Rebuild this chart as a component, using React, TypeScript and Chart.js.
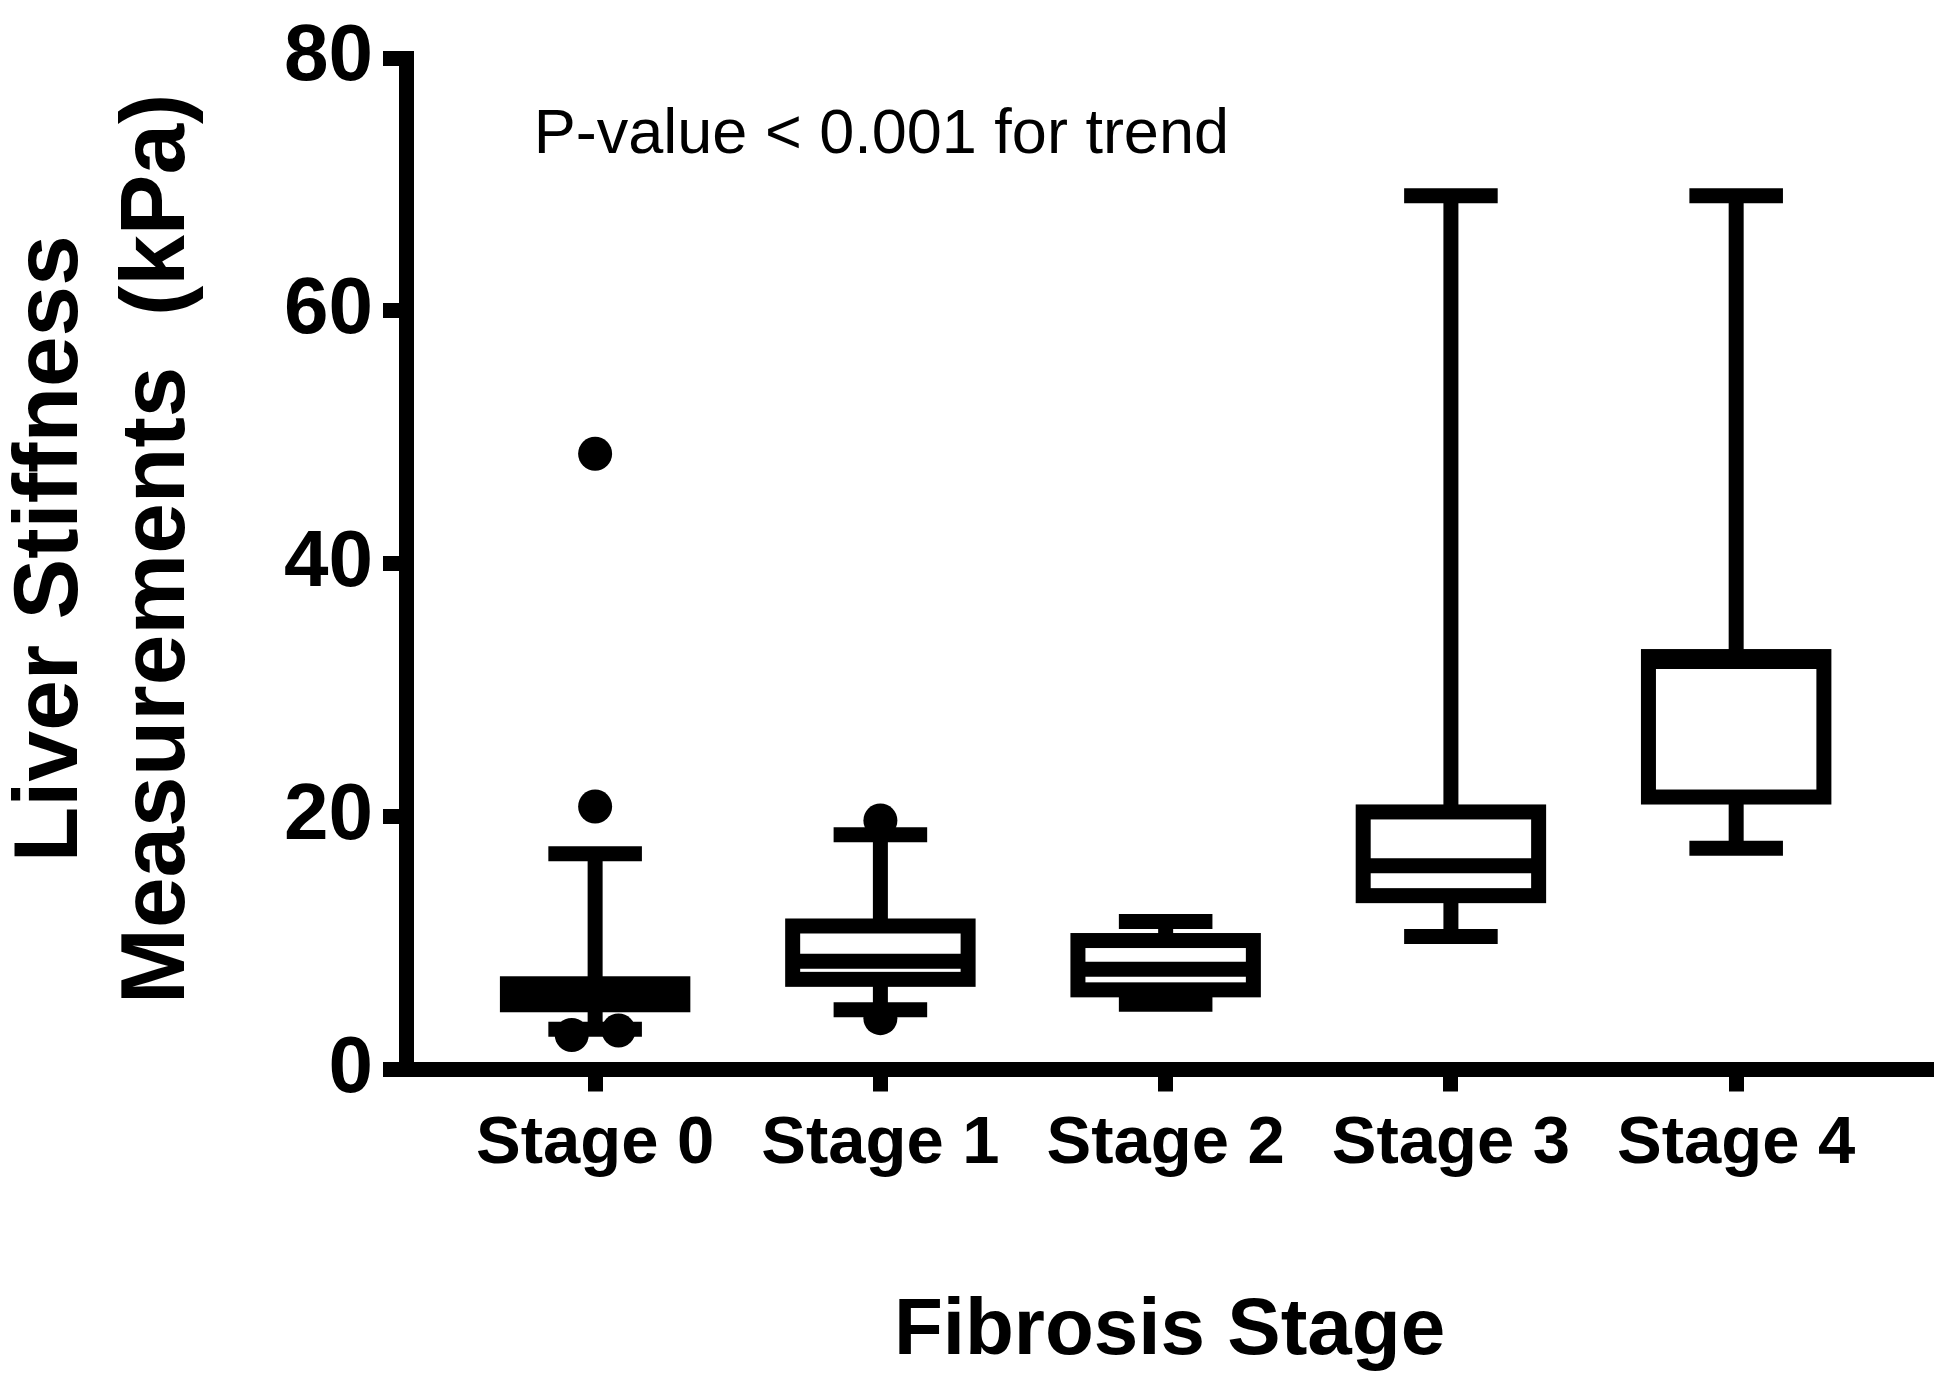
import React, { useEffect, useRef } from 'react';
import { Chart, registerables } from 'chart.js';

Chart.register(...registerables);

// ---- data ----
const categories = ['Stage 0', 'Stage 1', 'Stage 2', 'Stage 3', 'Stage 4'];
const whiskerLow = [3.19, 4.72, 5.16, 10.52, 17.49];
const q1 = [5.12, 7.13, 6.3, 13.75, 21.55];
const median = [5.9, 8.57, 7.92, 16.11, 32.27];
const q3 = [6.78, 11.35, 10.2, 20.37, 32.66];
const whiskerHigh = [17.06, 18.56, 11.7, 69.1, 69.1];
const outlierStage = [0, 0, 0, 0, 1, 1];
const outlierValue = [48.7, 20.8, 2.73, 3.08, 19.7, 4.06];
const yTicks = [0, 20, 40, 60, 80];
const annotationText = 'P-value < 0.001 for trend';
const xTitle = 'Fibrosis Stage';
const yTitle = ['Liver Stiffness', 'Measurements  (kPa)'];

const FONT = "'Liberation Sans', Arial, Helvetica, sans-serif";
const LINE_W = 15;
const BOX_HALF = 0.3075; // half box width in category units
const CAP_HALF = 0.164; // half whisker-cap width in category units

// spread outliers of the same stage that would overlap
function buildOutlierPoints() {
  const pts: { x: number; y: number }[] = [];
  categories.forEach((_, s) => {
    const vals = outlierValue.filter((_, k) => outlierStage[k] === s).sort((a, b) => a - b);
    vals.forEach((v, k) => {
      let dx = 0;
      const prev = vals[k - 1];
      const next = vals[k + 1];
      if (next !== undefined && next - v < 1) dx = -0.082;
      else if (prev !== undefined && v - prev < 1) dx = 0.082;
      pts.push({ x: s + dx, y: v });
    });
  });
  return pts;
}

const boxPlugin = {
  id: 'boxWhisker',
  beforeDatasetsDraw(chart: any) {
    const { ctx, scales } = chart;
    const x = scales.x;
    const y = scales.y;
    ctx.save();
    ctx.strokeStyle = '#000';
    ctx.lineWidth = LINE_W;
    ctx.lineCap = 'butt';
    const line = (x1: number, y1: number, x2: number, y2: number) => {
      ctx.beginPath();
      ctx.moveTo(x1, y1);
      ctx.lineTo(x2, y2);
      ctx.stroke();
    };
    categories.forEach((_, i) => {
      const cx = x.getPixelForValue(i);
      const half = x.getPixelForValue(i + BOX_HALF) - cx;
      const capHalf = x.getPixelForValue(i + CAP_HALF) - cx;
      const yLo = y.getPixelForValue(whiskerLow[i]);
      const yQ1 = y.getPixelForValue(q1[i]);
      const yMed = y.getPixelForValue(median[i]);
      const yQ3 = y.getPixelForValue(q3[i]);
      const yHi = y.getPixelForValue(whiskerHigh[i]);
      // whiskers
      line(cx, yQ3, cx, yHi);
      line(cx - capHalf, yHi, cx + capHalf, yHi);
      line(cx, yQ1, cx, yLo);
      line(cx - capHalf, yLo, cx + capHalf, yLo);
      // box
      ctx.fillStyle = '#fff';
      ctx.fillRect(cx - half, yQ3, 2 * half, yQ1 - yQ3);
      ctx.strokeRect(cx - half, yQ3, 2 * half, yQ1 - yQ3);
      // median
      line(cx - half, yMed, cx + half, yMed);
    });
    ctx.restore();
  },
  afterDraw(chart: any) {
    const { ctx, scales } = chart;
    ctx.save();
    ctx.fillStyle = '#000';
    ctx.font = `63px ${FONT}`;
    ctx.textAlign = 'left';
    ctx.textBaseline = 'alphabetic';
    ctx.fillText(annotationText, scales.x.getPixelForValue(-0.215), scales.y.getPixelForValue(72.5));
    ctx.restore();

    // y-axis title (two lines, rotated)
    const yScale = scales.y;
    const cy = (yScale.top + yScale.bottom) / 2 - 15;
    ctx.save();
    ctx.fillStyle = '#000';
    ctx.font = `bold 91px ${FONT}`;
    ctx.textAlign = 'center';
    ctx.textBaseline = 'middle';
    const lineH = 107;
    yTitle.forEach((t, k) => {
      ctx.save();
      ctx.translate(yScale.left + 52 + k * lineH, cy);
      ctx.rotate(-Math.PI / 2);
      ctx.fillText(t, 0, 0);
      ctx.restore();
    });
    ctx.restore();
  },
};

export default function App() {
  const ref = useRef<HTMLCanvasElement | null>(null);

  useEffect(() => {
    document.body.style.margin = '0';
    const canvas = ref.current;
    if (!canvas) return;
    const chart = new Chart(canvas, {
      type: 'scatter',
      data: {
        datasets: [
          {
            label: 'Outliers',
            data: buildOutlierPoints(),
            backgroundColor: '#000',
            borderColor: '#000',
            borderWidth: 0,
            pointRadius: 17,
            pointHoverRadius: 17,
          },
        ],
      },
      options: {
        animation: false,
        responsive: false,
        devicePixelRatio: 1,
        events: [],
        layout: { padding: { top: 55.5, right: 12, left: 0, bottom: 0 } },
        plugins: { legend: { display: false }, tooltip: { enabled: false } },
        scales: {
          x: {
            type: 'linear',
            min: -0.663,
            max: 4.69,
            afterBuildTicks: (axis: any) => {
              axis.ticks = categories.map((_, i) => ({ value: i }));
            },
            afterFit: (s: any) => {
              s.height = 328.5;
            },
            grid: {
              drawOnChartArea: false,
              drawTicks: true,
              tickLength: 22,
              tickWidth: LINE_W,
              tickColor: '#000',
            },
            border: { display: true, color: '#000', width: LINE_W },
            ticks: {
              color: '#000',
              padding: 13,
              maxRotation: 0,
              autoSkip: false,
              font: { family: FONT, size: 67, weight: 'bold' },
              callback: (v: any) => categories[Math.round(Number(v))] ?? '',
            },
            title: {
              display: true,
              text: xTitle,
              color: '#000',
              font: { family: FONT, size: 80, weight: 'bold', lineHeight: 1.2 },
              padding: { top: 0, bottom: 18 },
            },
          },
          y: {
            type: 'linear',
            min: 0,
            max: 80,
            afterBuildTicks: (axis: any) => {
              axis.ticks = yTicks.map((v) => ({ value: v }));
            },
            afterFit: (s: any) => {
              s.width = 406;
            },
            grid: {
              drawOnChartArea: false,
              drawTicks: true,
              tickLength: 23,
              tickWidth: LINE_W,
              tickColor: '#000',
            },
            border: { display: true, color: '#000', width: LINE_W },
            ticks: {
              color: '#000',
              padding: 10,
              font: { family: FONT, size: 80, weight: 'bold' },
            },
            title: { display: false },
          },
        },
      },
      plugins: [boxPlugin],
    } as any);
    return () => chart.destroy();
  }, []);

  return (
    <div style={{ width: 1950, height: 1398, background: '#fff' }}>
      <canvas ref={ref} width={1950} height={1398} style={{ width: 1950, height: 1398, display: 'block' }} />
    </div>
  );
}
